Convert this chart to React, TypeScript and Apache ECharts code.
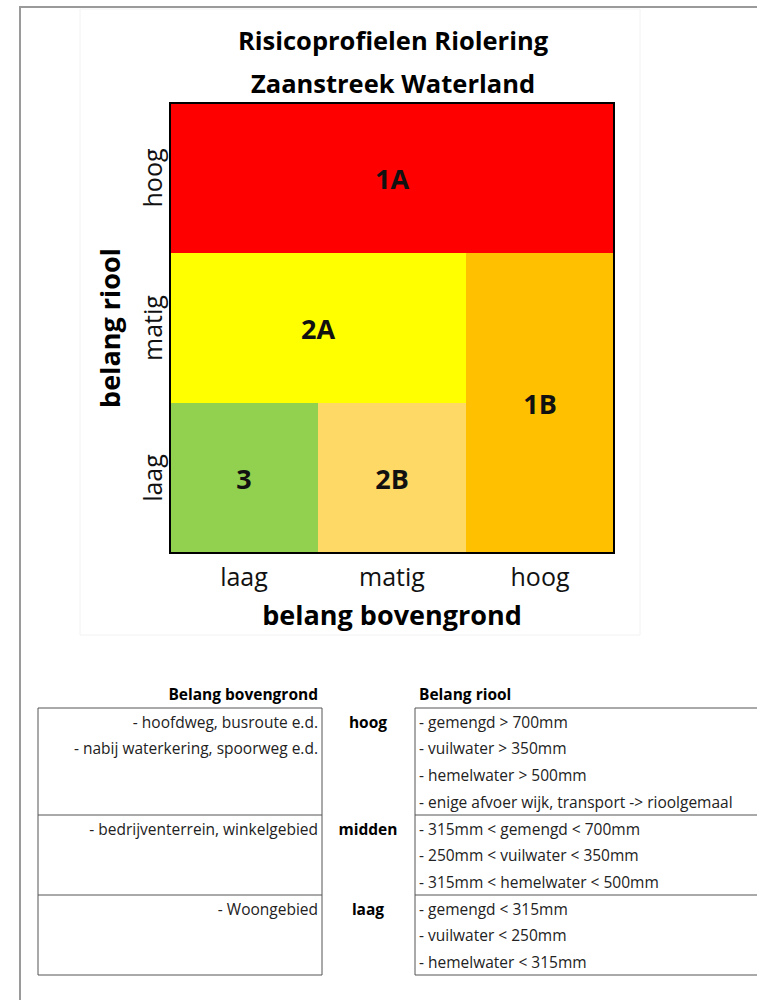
import React, { useEffect, useRef } from "react";
import * as echarts from "echarts";

const xCategories = ["laag", "matig", "hoog"];
const yCategories = ["laag", "matig", "hoog"];
// [xFrom, xTo, yFrom, yTo] category indices
const cellRanges = [
  [0, 2, 2, 2],
  [0, 1, 1, 1],
  [2, 2, 0, 1],
  [0, 0, 0, 0],
  [1, 1, 0, 0],
];
const cellLabels = ["1A", "2A", "1B", "3", "2B"];
const cellColors = ["#FF0000", "#FFFF00", "#FFC000", "#92D050", "#FFD966"];

const titleLines = ["Risicoprofielen Riolering", "Zaanstreek Waterland"];
const xAxisName = "belang bovengrond";
const yAxisName = "belang riool";

const bovengrondHeader = "Belang bovengrond";
const rioolHeader = "Belang riool";
const levelLabels = ["hoog", "midden", "laag"];
const bovengrondRows = [
  ["- hoofdweg, busroute e.d.", "- nabij waterkering, spoorweg e.d."],
  ["- bedrijventerrein, winkelgebied"],
  ["- Woongebied"],
];
const rioolRows = [
  ["- gemengd > 700mm", "- vuilwater > 350mm", "- hemelwater > 500mm", "- enige afvoer wijk, transport -> rioolgemaal"],
  ["- 315mm < gemengd < 700mm", "- 250mm < vuilwater < 350mm", "- 315mm < hemelwater < 500mm"],
  ["- gemengd < 315mm", "- vuilwater < 250mm", "- hemelwater < 315mm"],
];

const FONT = "'Open Sans', 'Noto Sans', sans-serif";

export default function App() {
  const ref = useRef<HTMLDivElement>(null);

  useEffect(() => {
    document.body.style.margin = "0";
    if (!ref.current) return;
    const chart = echarts.init(ref.current, null, { renderer: "svg" });

    const G = { left: 170, top: 103, width: 444, height: 450 };

    const graphics: any[] = [];
    graphics.push({
      type: "rect",
      shape: { x: 80, y: 9, width: 560, height: 626 },
      style: { fill: "none", stroke: "#f2f2f2", lineWidth: 1 },
      z: -1,
    });
    graphics.push({
      type: "polyline",
      shape: { points: [[20, 1000], [20, 7], [760, 7]] },
      style: { fill: "none", stroke: "#9a9a9a", lineWidth: 2 },
    });
    titleLines.forEach((t, i) => {
      graphics.push({
        type: "text",
        x: 393,
        y: 40 + i * 43,
        style: {
          text: t,
          fill: "#000",
          font: `bold 25.5px ${FONT}`,
          align: "center",
          verticalAlign: "middle",
        },
      });
    });
    graphics.push({
      type: "rect",
      shape: { x: G.left, y: G.top, width: G.width, height: G.height },
      style: { fill: "none", stroke: "#000", lineWidth: 2 },
      z: 100,
    });

    const rowTops = [708, 815, 895];
    const tableBottom = 975;
    const lineH = 26.8;
    const TF = 15.5;
    graphics.push({
      type: "rect",
      shape: { x: 38, y: 708, width: 284, height: tableBottom - 708 },
      style: { fill: "none", stroke: "#555", lineWidth: 1 },
    });
    graphics.push({
      type: "rect",
      shape: { x: 415, y: 708, width: 360, height: tableBottom - 708 },
      style: { fill: "none", stroke: "#555", lineWidth: 1 },
    });
    [1, 2].forEach((r) => {
      graphics.push({
        type: "line",
        shape: { x1: 38, y1: rowTops[r], x2: 322, y2: rowTops[r] },
        style: { stroke: "#555", lineWidth: 1 },
      });
      graphics.push({
        type: "line",
        shape: { x1: 415, y1: rowTops[r], x2: 760, y2: rowTops[r] },
        style: { stroke: "#555", lineWidth: 1 },
      });
    });
    graphics.push({
      type: "text",
      x: 318,
      y: 694,
      style: { text: bovengrondHeader, fill: "#000", font: `bold ${TF}px ${FONT}`, align: "right", verticalAlign: "middle" },
    });
    graphics.push({
      type: "text",
      x: 419,
      y: 694,
      style: { text: rioolHeader, fill: "#000", font: `bold ${TF}px ${FONT}`, align: "left", verticalAlign: "middle" },
    });
    rowTops.forEach((top, r) => {
      const y0 = top + 13.5;
      bovengrondRows[r].forEach((t, i) => {
        graphics.push({
          type: "text",
          x: 318,
          y: y0 + i * lineH,
          style: { text: t, fill: "#222", font: `${TF}px ${FONT}`, align: "right", verticalAlign: "middle" },
        });
      });
      rioolRows[r].forEach((t, i) => {
        graphics.push({
          type: "text",
          x: 419,
          y: y0 + i * lineH,
          style: { text: t, fill: "#222", font: `${TF}px ${FONT}`, align: "left", verticalAlign: "middle" },
        });
      });
      graphics.push({
        type: "text",
        x: 368,
        y: y0,
        style: { text: levelLabels[r], fill: "#000", font: `bold ${TF}px ${FONT}`, align: "center", verticalAlign: "middle" },
      });
    });

    const data = cellRanges.map((r, i) => ({
      value: r,
      name: cellLabels[i],
      itemStyle: { color: cellColors[i] },
    }));

    chart.setOption({
      animation: false,
      backgroundColor: "#fff",
      grid: { ...G, containLabel: false },
      xAxis: {
        type: "category",
        data: xCategories,
        name: xAxisName,
        nameLocation: "middle",
        nameGap: 48,
        nameTextStyle: { fontFamily: FONT, fontSize: 27, fontWeight: "bold", color: "#000" },
        axisLine: { show: false },
        axisTick: { show: false },
        splitLine: { show: false },
        axisLabel: { fontFamily: FONT, fontSize: 25, color: "#111", margin: 10 },
      },
      yAxis: {
        type: "category",
        data: yCategories,
        name: yAxisName,
        nameLocation: "middle",
        nameGap: 47,
        nameTextStyle: { fontFamily: FONT, fontSize: 27, fontWeight: "bold", color: "#000" },
        axisLine: { show: false },
        axisTick: { show: false },
        splitLine: { show: false },
        axisLabel: { fontFamily: FONT, fontSize: 25, color: "#111", rotate: 90, margin: 6 },
      },
      graphic: graphics,
      series: [
        {
          type: "custom",
          encode: { x: [0, 1], y: [2, 3] },
          data,
          renderItem: (params: any, api: any) => {
            const x0 = api.value(0);
            const x1 = api.value(1);
            const y0 = api.value(2);
            const y1 = api.value(3);
            const pTL = api.coord([x0, y1]);
            const pBR = api.coord([x1, y0]);
            const size = api.size([1, 1]);
            const rx = pTL[0] - size[0] / 2;
            const ry = pTL[1] - size[1] / 2;
            const rw = pBR[0] - pTL[0] + size[0];
            const rh = pBR[1] - pTL[1] + size[1];
            const idx = params.dataIndex;
            return {
              type: "group",
              children: [
                {
                  type: "rect",
                  shape: { x: rx, y: ry, width: rw, height: rh },
                  style: { fill: cellColors[idx] },
                },
                {
                  type: "text",
                  x: rx + rw / 2,
                  y: ry + rh / 2,
                  style: {
                    text: cellLabels[idx],
                    fill: "#111",
                    font: `bold 27px ${FONT}`,
                    align: "center",
                    verticalAlign: "middle",
                  },
                },
              ],
            };
          },
        },
      ],
    });

    return () => chart.dispose();
  }, []);

  return <div ref={ref} style={{ width: 757, height: 1000 }} />;
}
